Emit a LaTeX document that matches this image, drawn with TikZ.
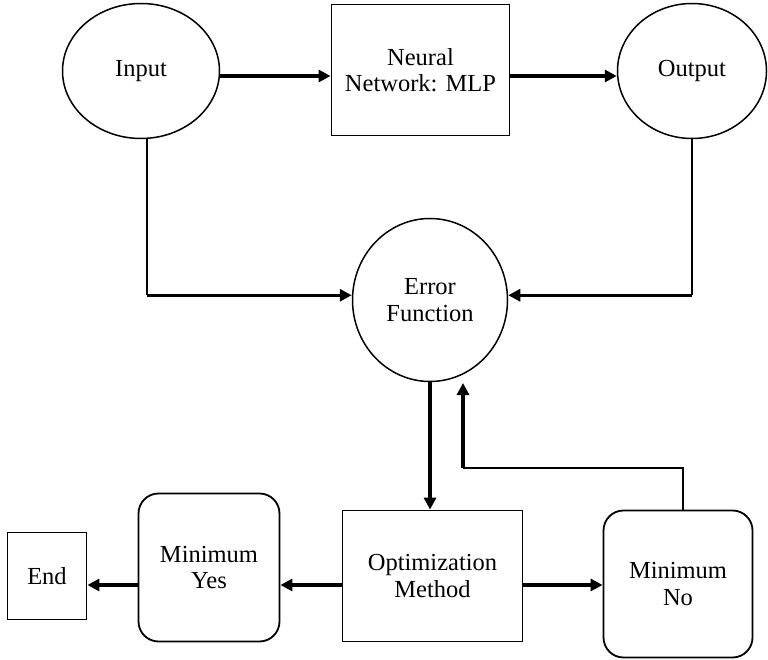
\documentclass[tikz,border=0pt]{standalone}
\usepackage{fontspec}
\setmainfont{Liberation Serif}
\usetikzlibrary{shapes.geometric,arrows.meta,calc}
\begin{document}
\begin{tikzpicture}[x=1pt,y=-1pt,
  lbl/.style={font=\fontsize{24.5}{26.5}\selectfont, align=center, inner sep=0pt},
  ell/.style={lbl, ellipse, draw, line width=1.5pt},
  box/.style={lbl, rectangle, draw, line width=1.8pt},
  rbox/.style={lbl, rectangle, rounded corners=20pt, draw, line width=1.8pt},
  thinl/.style={line width=1.8pt},
  arr/.style={line width=3.2pt, -{Triangle[length=12pt,width=12pt]}}]
\useasboundingbox (0,0) rectangle (768,660);
\node[ell, minimum width=157pt, minimum height=135pt] (in) at (141,71) {Input};
\node[box, minimum width=178pt, minimum height=131pt] (nn) at (420.5,70) {Neural\\Network: MLP};
\node[ell, minimum width=149pt, minimum height=135pt] (out) at (692,71) {Output};
\node[ell, minimum width=155pt, minimum height=163pt] (err) at (430,300) {Error\\Function};
\node[box, minimum width=180pt, minimum height=131pt] (opt) at (432.5,576) {Optimization\\Method};
\node[rbox, minimum width=149pt, minimum height=147pt] (mno) at (678,584) {Minimum\\No};
\node[rbox, minimum width=141pt, minimum height=148pt] (myes) at (209,567.5) {Minimum\\Yes};
\node[box, minimum width=79pt, minimum height=87pt] (end) at (47,576) {End};
% top row
\draw[arr] ([yshift=-5pt]in.east) -- ([yshift=-5pt]in.east -| nn.west);
\draw[arr] ([yshift=-6pt]nn.east) -- ([yshift=-6pt]nn.east -| out.west);
% input/output to error
\draw[thinl] ([xshift=6pt]in.south) -- ++(0,156) coordinate (c1);
\draw[arr] (c1) -- (c1 -| err.west);
\draw[thinl] (out.south) -- ++(0,156) coordinate (c2);
\draw[arr] (c2) -- (c2 -| err.east);
% error to optimization
\draw[arr] (err.south) -- (err.south |- opt.north);
% optimization to minimum boxes
\draw[arr] ([yshift=-9pt]opt.east) -- ([yshift=-9pt]opt.east -| mno.west);
\draw[arr] ([yshift=-9pt]opt.west) -- ([yshift=-9pt]opt.west -| myes.east);
\draw[arr] ([yshift=-17.5pt]myes.west) -- ([yshift=-17.5pt]myes.west -| end.east);
% feedback loop
\coordinate (fb) at (463,383);
\draw[thinl] ([xshift=5pt]mno.north) -- ++(0,-42) coordinate (c3) -- (c3 -| fb);
\draw[arr] (c3 -| fb) -- (fb);
\end{tikzpicture}
\end{document}
